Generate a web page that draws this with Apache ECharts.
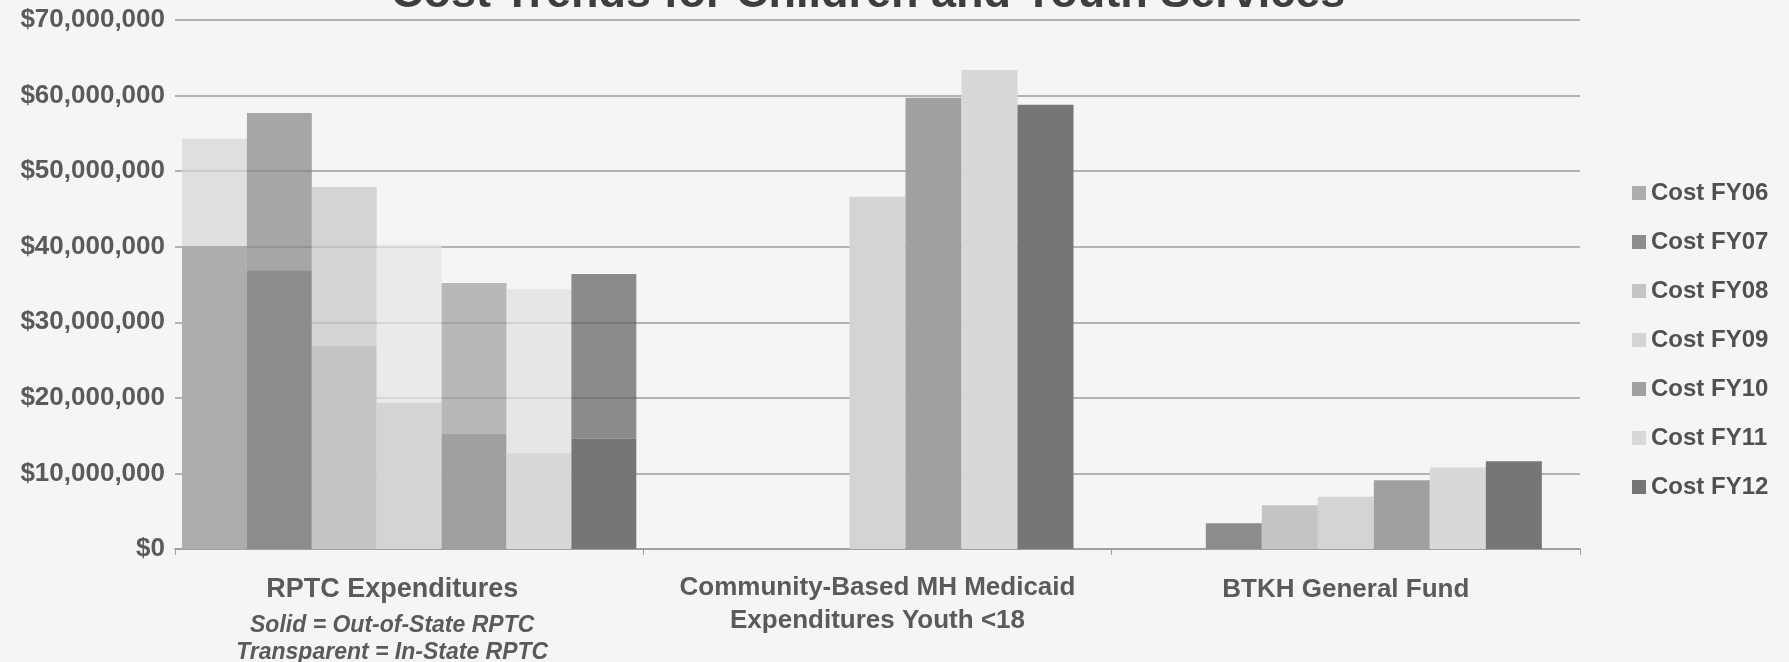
<!DOCTYPE html>
<html>
<head>
<meta charset="utf-8">
<script src="https://cdn.jsdelivr.net/npm/echarts@6/dist/echarts.min.js"></script>
<style>
  html, body { margin: 0; padding: 0; background: #f5f5f3; }
  #chart { width: 1789px; height: 662px; }
</style>
</head>
<body>
<div id="chart"></div>
<script>
    // categories on the x axis
    var categories = ['RPTC Expenditures', 'Community-Based MH Medicaid\nExpenditures Youth <18', 'BTKH General Fund'];
    var rptcNotes = ['Solid = Out-of-State RPTC', 'Transparent = In-State RPTC'];
    var years = ['FY06', 'FY07', 'FY08', 'FY09', 'FY10', 'FY11', 'FY12'];
    var yTicks = [0, 10000000, 20000000, 30000000, 40000000, 50000000, 60000000, 70000000];

    // values read per fiscal year
    var rptcOutOfState = [40100000, 36900000, 26900000, 19400000, 15300000, 12700000, 14600000];
    var rptcInState = [14200000, 20800000, 21000000, 20900000, 19900000, 21700000, 21800000];
    var medicaidYouth = [null, null, null, 46600000, 59700000, 63400000, 58800000];
    var btkhFund = [null, 3400000, 5800000, 6900000, 9100000, 10800000, 11600000];

    var costColors = ['#adadad', '#8c8c8c', '#c4c4c4', '#d4d4d4', '#a0a0a0', '#d8d8d8', '#767676'];
    var lightColors = ['#d6d6d6', '#858585', '#c6c6c6', '#e6e6e6', '#9e9e9e', '#e0e0e0', '#5e5e5e'];

    var series = [];
    years.forEach(function(fy, i) {
        // Community-Based MH + BTKH columns (visible axis)
        series.push({
            name: 'Cost ' + fy,
            type: 'bar',
            xAxisIndex: 0,
            barWidth: 56,
            barGap: 0,
            itemStyle: { color: costColors[i] },
            data: [null, medicaidYouth[i], btkhFund[i]]
        });
    });
    years.forEach(function(fy, i) {
        // RPTC: solid = out-of-state, transparent = in-state on top
        series.push({
            name: 'Out-of-State ' + fy,
            type: 'bar',
            xAxisIndex: 1,
            stack: 'rptc' + fy,
            barGap: 0,
            barCategoryGap: '3%',
            itemStyle: { color: costColors[i] },
            data: [rptcOutOfState[i], null, null]
        });
        series.push({
            name: 'In-State ' + fy,
            type: 'bar',
            xAxisIndex: 1,
            stack: 'rptc' + fy,
            barGap: 0,
            barCategoryGap: '3%',
            itemStyle: { color: lightColors[i], opacity: 0.7 },
            data: [rptcInState[i], null, null]
        });
    });

    var labelFont = 'Liberation Sans';
    var labelColor = '#5a5a5a';

    var option = {
        backgroundColor: '#f5f5f3',
        animation: false,
        title: {
            text: 'Cost Trends for Children and Youth Services',
            left: 386,
            top: -33,
            textStyle: {
                fontFamily: labelFont,
                fontWeight: 'bold',
                fontSize: 45,
                color: '#3e3e3e'
            }
        },
        legend: {
            orient: 'vertical',
            left: 1627,
            top: 175,
            itemGap: 23,
            itemWidth: 14,
            itemHeight: 14,
            icon: 'rect',
            data: years.map(function(fy) { return 'Cost ' + fy; }),
            textStyle: {
                fontFamily: labelFont,
                fontWeight: 'bold',
                fontSize: 24,
                lineHeight: 26,
                color: '#505050'
            }
        },
        grid: {
            left: 175,
            right: 209,
            top: 20,
            bottom: 113,
            outerBoundsMode: 'none'
        },
        xAxis: [{
            type: 'category',
            data: categories,
            axisLine: { lineStyle: { color: '#9a9a9a', width: 1.5 } },
            axisTick: { show: true, length: 6, lineStyle: { color: '#9a9a9a' } },
            axisLabel: {
                interval: 0,
                margin: 22,
                formatter: function(value, index) {
                    var lines = value.split('\n');
                    if (index === 0) {
                        return '{a0|' + value + '}\n{s1|' + rptcNotes[0] + '}\n{s2|' + rptcNotes[1] + '}';
                    }
                    if (lines.length > 1) {
                        return lines.map(function(l) { return '{m|' + l + '}'; }).join('\n');
                    }
                    return '{a|' + value + '}';
                },
                rich: {
                    a: { fontFamily: labelFont, fontWeight: 'bold', fontSize: 26, lineHeight: 38, color: labelColor },
                    a0: { fontFamily: labelFont, fontWeight: 'bold', fontSize: 27, lineHeight: 38, color: labelColor, padding: [0, 34, 0, 0] },
                    m: { fontFamily: labelFont, fontWeight: 'bold', fontSize: 26, lineHeight: 33, color: labelColor },
                    s1: { fontFamily: labelFont, fontWeight: 'bold', fontStyle: 'italic', fontSize: 23, lineHeight: 33, color: labelColor, padding: [0, 34, 0, 0] },
                    s2: { fontFamily: labelFont, fontWeight: 'bold', fontStyle: 'italic', fontSize: 23, lineHeight: 22, color: labelColor, padding: [0, 34, 0, 0] }
                }
            }
        }, {
            type: 'category',
            data: categories,
            show: false
        }],
        yAxis: {
            type: 'value',
            min: yTicks[0],
            max: yTicks[yTicks.length - 1],
            interval: yTicks[1] - yTicks[0],
            axisLine: { show: false },
            axisTick: { show: false },
            splitLine: { lineStyle: { color: '#9c9c9c', width: 1.5 } },
            axisLabel: {
                margin: 10,
                fontFamily: labelFont,
                fontWeight: 'bold',
                fontSize: 26,
                color: labelColor,
                formatter: function(v) {
                    return '$' + v.toLocaleString('en-US');
                }
            }
        },
        series: series
    };

    var chart = echarts.init(document.getElementById('chart'));
    chart.setOption(option);
</script>
</body>
</html>
